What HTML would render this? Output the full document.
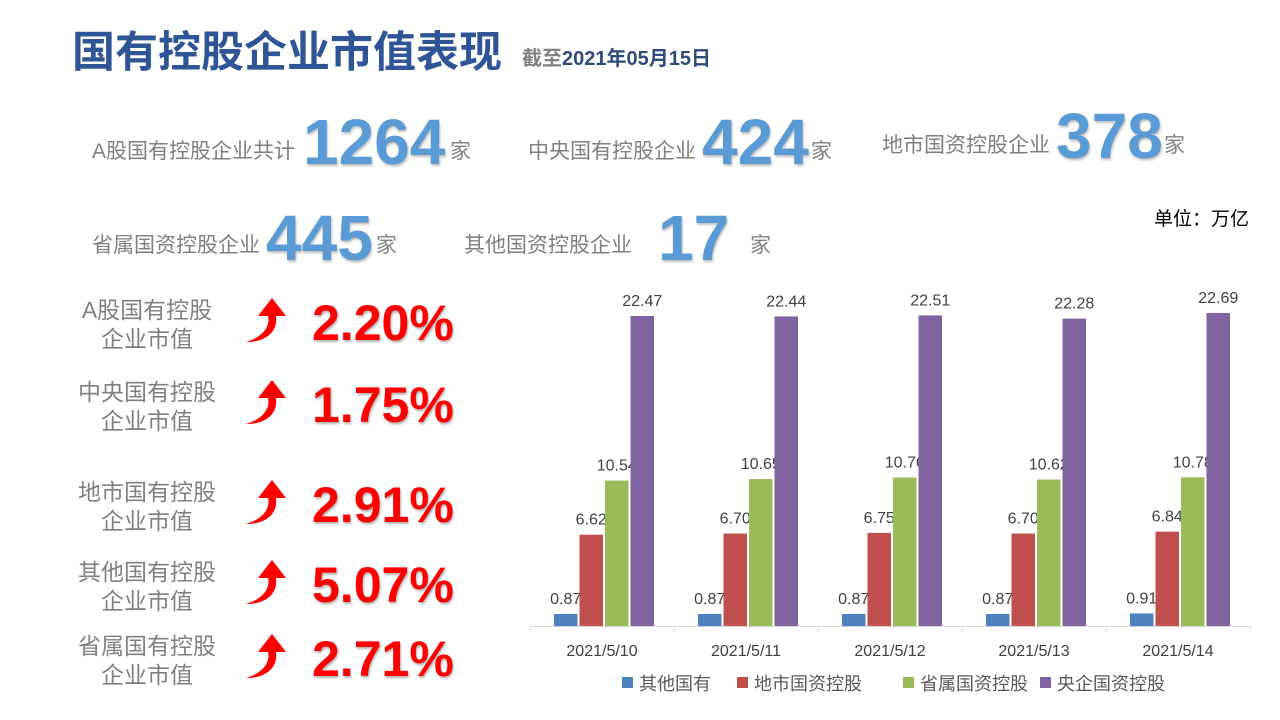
<!DOCTYPE html>
<html><head><meta charset="utf-8"><style>
body{margin:0;width:1280px;height:720px;background:#fff;position:relative;overflow:hidden;font-family:"Liberation Sans","Noto Sans CJK SC",sans-serif}
.a{position:absolute;white-space:nowrap}
.t{color:#2F5597;font-size:43px;font-weight:bold;left:72px;top:18px}
.sub{left:522px;top:42px;font-size:20px;font-weight:bold;color:#2F4A7A}
.lbl{color:#7f7f7f;font-size:21px}
.num{color:#5B9BD5;font-size:64px;font-weight:bold;text-shadow:1px 2px 2px rgba(0,0,0,.25)}
.jia{color:#7f7f7f;font-size:21px}
.ml{color:#808080;font-size:23px;text-align:center;line-height:29px;width:170px}
.pct{color:#FF0000;font-size:50px;font-weight:bold;text-shadow:1px 2px 2px rgba(0,0,0,.3)}
</style></head><body>
<div class="a t">国有控股企业市值表现</div>
<div class="a sub"><span style="color:#808080">截至</span>2021年05月15日</div>

<div class="a lbl" style="left:92px;top:135px">A股国有控股企业共计</div>
<div class="a num" style="left:303px;top:105px">1264</div>
<div class="a jia" style="left:450px;top:135px">家</div>

<div class="a lbl" style="left:528px;top:135px">中央国有控股企业</div>
<div class="a num" style="left:702px;top:105px">424</div>
<div class="a jia" style="left:811px;top:135px">家</div>

<div class="a lbl" style="left:882px;top:129px">地市国资控股企业</div>
<div class="a num" style="left:1056px;top:99px">378</div>
<div class="a jia" style="left:1164px;top:129px">家</div>

<div class="a lbl" style="left:92px;top:229px">省属国资控股企业</div>
<div class="a num" style="left:266px;top:201px">445</div>
<div class="a jia" style="left:376px;top:229px">家</div>

<div class="a lbl" style="left:464px;top:229px">其他国资控股企业</div>
<div class="a num" style="left:658px;top:201px">17</div>
<div class="a jia" style="left:750px;top:229px">家</div>

<div class="a" style="left:1154px;top:204px;font-size:19px;color:#000">单位：万亿</div>

<div id="left"></div>
<svg class="a" style="left:0;top:0" width="1280" height="720" id="chart"></svg>
<script>
const items=[["A股国有控股","企业市值","2.20%",296],["中央国有控股","企业市值","1.75%",378],["地市国有控股","企业市值","2.91%",478],["其他国有控股","企业市值","5.07%",558],["省属国有控股","企业市值","2.71%",632]];
const left=document.getElementById('left');
items.forEach(function(it){
 const d=document.createElement('div');d.className='a ml';d.style.left='62px';d.style.top=it[3]+'px';d.innerHTML=it[0]+'<br>'+it[1];
 
 
 left.appendChild(d);
 const p=document.createElement('div');p.className='a pct';p.style.left='312px';p.style.top=(it[3]-2)+'px';p.textContent=it[2];
 
 
 left.appendChild(p);
 const s=document.createElementNS('http://www.w3.org/2000/svg','svg');s.setAttribute('class','a');s.setAttribute('width','44');s.setAttribute('height','48');
 s.style.left='244px';s.style.top=(it[3]+2)+'px';
 s.innerHTML='<path d="M2,44 C22,38 26,26 24,18 L14,18 L28,0 L42,18 L32,18 C34,32 24,44 2,44 Z" fill="#FF0000"/>';
 
 
 left.appendChild(s);
});
</script>
<script>
const categories=["2021/5/10","2021/5/11","2021/5/12","2021/5/13","2021/5/14"];
const seriesNames=["其他国有","地市国资控股","省属国资控股","央企国资控股"];
const otherVals=[0.87,0.87,0.87,0.87,0.91];
const localVals=[6.62,6.70,6.75,6.70,6.84];
const provVals=[10.54,10.65,10.76,10.62,10.78];
const centralVals=[22.47,22.44,22.51,22.28,22.69];
const colors=["#4F81BD","#C0504D","#9BBB59","#8064A2"];
const series=[otherVals,localVals,provVals,centralVals];
const NS='http://www.w3.org/2000/svg';
const svg=document.getElementById('chart');
const x0=530,x1=1250,base=626,scale=310/22.47;
const gw=(x1-x0)/categories.length;
const yv=v=>base-v*scale;
function el(t,a){const e=document.createElementNS(NS,t);for(const k in a)e.setAttribute(k,a[k]);svg.appendChild(e);return e;}
const axis=el('line',{x1:x0,y1:base+0.5,x2:x1,y2:base+0.5,stroke:'#d9d9d9'});


for(let i=0;i<=categories.length;i++){const tk=el('line',{x1:x0+i*gw,y1:base,x2:x0+i*gw,y2:base+6,stroke:'#d9d9d9'});

}
categories.forEach(function(c,i){
 const gx=x0+i*gw+24;
 series.forEach(function(s,j){
  const bx=gx+j*25.5,by=yv(s[i]);
  const r=el('rect',{x:bx,y:by,width:23.5,height:base-by,fill:colors[j]});
  
  
  const t=el('text',{x:bx+11.75,y:by-10,'text-anchor':'middle','font-size':16,fill:'#404040','font-family':'Liberation Sans, sans-serif'});
  t.textContent=s[i].toFixed(2);
  
  
 });
 const lt=el('text',{x:x0+i*gw+gw/2,y:656,'text-anchor':'middle','font-size':16,fill:'#404040','font-family':'Liberation Sans, sans-serif'});
 lt.textContent=c;
 
 
});
const lx=[622,737,903,1040];
seriesNames.forEach(function(n,j){
 const r=el('rect',{x:lx[j],y:677,width:11,height:11,fill:colors[j]});
 
 
 const t=el('text',{x:lx[j]+17,y:690,'font-size':18,fill:'#595959','font-family':'Liberation Sans, Noto Sans CJK SC, sans-serif'});
 t.textContent=n;
 
 
});
</script>
</body></html>
